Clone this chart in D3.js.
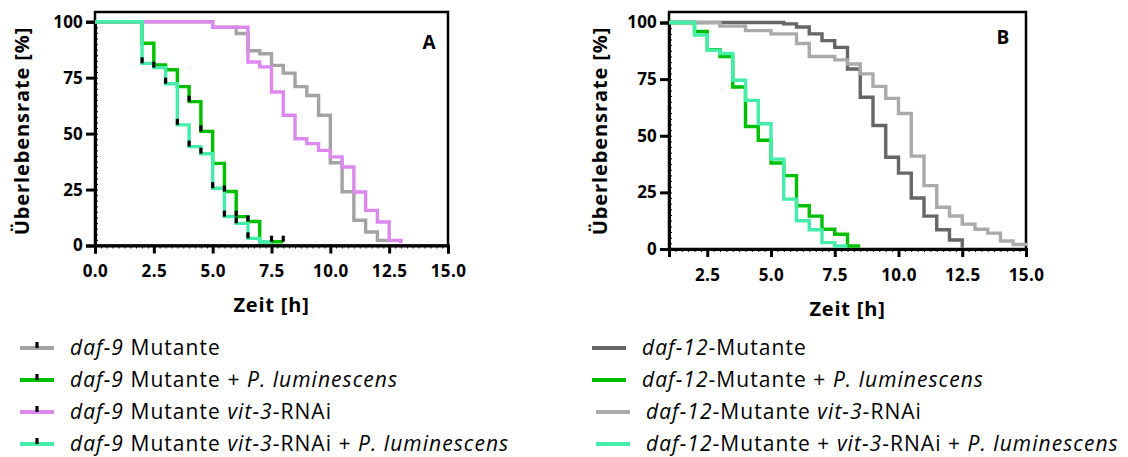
<!DOCTYPE html>
<html><head><meta charset="utf-8">
<script src="https://cdn.jsdelivr.net/npm/d3@7"></script>
<style>
html,body{margin:0;padding:0;background:#fff;}
svg{display:block;font-family:"Open Sans",Lato,sans-serif;}
</style></head>
<body>
<svg id="c" width="1128" height="457"></svg>
<script>
// ---------- DATA ----------
const xTicksA = [0, 2.5, 5, 7.5, 10, 12.5, 15];
const xTicksB = [2.5, 5, 7.5, 10, 12.5, 15];
const yTicks = [0, 25, 50, 75, 100];

// Panel A (daf-9)
const tA_gray  = [0, 5.0, 6.0, 6.5, 7.0, 7.5, 8.0, 8.5, 9.0, 9.5, 10.0, 10.5, 11.0, 11.5, 12.0, 12.5];
const sA_gray  = [100, 97.5, 94.7, 87, 85.7, 80.5, 77, 71, 67, 58.2, 37, 24, 11.3, 6, 2.3, 1.5];
const tA_green = [0, 2.0, 2.5, 3.0, 3.5, 4.0, 4.5, 5.0, 5.5, 6.0, 6.5, 7.0, 8.0];
const sA_green = [100, 90.4, 80.7, 78.5, 71, 64.3, 51, 36.7, 24.1, 12.9, 10.7, 1.7, 1.7];
const tA_pink  = [0, 5.0, 6.5, 7.0, 7.5, 8.0, 8.5, 9.0, 9.5, 10.0, 10.5, 11.0, 11.5, 12.0, 12.5, 13.0];
const sA_pink  = [100, 97.5, 82, 79.8, 68.6, 58.2, 47.7, 45.5, 42.5, 39.6, 35.1, 23.9, 15.7, 10.5, 2.3, 1];
const tA_cyan  = [0, 2.0, 2.5, 3.0, 3.5, 4.0, 4.5, 5.0, 5.5, 6.0, 6.5, 7.0, 7.5];
const sA_cyan  = [100, 81.4, 79.5, 72.3, 53.9, 44.2, 41, 25.6, 12.9, 9.9, 3.2, 1.7, 1.7];
const censA_green = [4.0, 4.5, 5.5, 6.0, 6.5, 7.5, 8.0];
const censA_cyan  = [2.0, 2.5, 3.0, 3.5, 4.0, 4.5, 5.0, 5.5, 6.0, 6.5];

// Panel B (daf-12)
const tB_dark  = [1, 5.5, 6.0, 6.5, 7.0, 7.5, 8.0, 8.5, 9.0, 9.5, 10.0, 10.5, 11.0, 11.5, 12.0, 12.5];
const sB_dark  = [100, 99.4, 98, 95, 92, 89, 79.5, 67, 54.5, 40.5, 33.5, 22.5, 14.5, 8.5, 4, 0.5];
const tB_light = [1, 3.0, 4.0, 5.0, 6.0, 6.5, 7.5, 8.0, 8.5, 9.0, 9.5, 10.0, 10.5, 11.0, 11.5, 12.0, 12.5, 13.0, 13.5, 14.0, 14.5, 15.0];
const sB_light = [100, 98.4, 96.4, 95, 90.7, 85, 83.5, 81.7, 77.3, 71.8, 66.5, 59.8, 41, 28, 18.4, 14.6, 11, 8.7, 7, 3.5, 2, 1.3];
const tB_green = [1, 2.0, 2.5, 3.0, 3.5, 4.0, 4.5, 5.0, 5.5, 6.0, 6.5, 7.0, 7.5, 8.0, 8.5];
const sB_green = [100, 96, 88, 85, 71.5, 54.1, 48, 38, 32.4, 19.1, 14.5, 8.7, 6.5, 1.3, 1.3];
const tB_cyan  = [1, 2.0, 2.5, 3.0, 3.5, 4.0, 4.5, 5.0, 5.5, 6.0, 6.5, 7.0, 7.5, 8.0];
const sB_cyan  = [100, 94.5, 87.8, 86.3, 74.5, 65.6, 55.3, 39.7, 22, 12.5, 8.5, 2.8, 1.3, 1.3];

// Legend texts: [text, italic]
const legendA = [
  [["daf-9", true], [" Mutante", false]],
  [["daf-9", true], [" Mutante + ", false], ["P. luminescens", true]],
  [["daf-9", true], [" Mutante ", false], ["vit-3", true], ["-RNAi", false]],
  [["daf-9", true], [" Mutante ", false], ["vit-3", true], ["-RNAi + ", false], ["P. luminescens", true]]
];
const legendB = [
  [["daf-12", true], ["-Mutante", false]],
  [["daf-12", true], ["-Mutante + ", false], ["P. luminescens", true]],
  [["daf-12", true], ["-Mutante ", false], ["vit-3", true], ["-RNAi", false]],
  [["daf-12", true], ["-Mutante + ", false], ["vit-3", true], ["-RNAi + ", false], ["P. luminescens", true]]
];

// ---------- STYLE ----------
const C = {gray:"#a3a3a3", green:"#00bf00", pink:"#dd88ee", cyan:"#44eeaa", dark:"#666666", light:"#aaaaaa"};
const FONT = "'Open Sans', Lato, sans-serif";

const svg = d3.select("#c");

function zip(t, s){ return t.map((d,i)=>[d, s[i]]); }
function stepVal(t, s, x){ let v = s[0]; for(let i=0;i<t.length;i++){ if(t[i] <= x + 1e-9) v = s[i]; } return v; }

function panel(cfg){
  const g = svg.append("g");
  const x = d3.scaleLinear().domain(cfg.xDom).range(cfg.xRange);
  const y = d3.scaleLinear().domain([0,100]).range(cfg.yRange);
  const left = cfg.xRange[0], right = cfg.xRange[1], bottom = cfg.yRange[0], top = cfg.top;

  // minor ticks
  const minorX = d3.axisBottom(x).tickValues(d3.range(cfg.xDom[0], cfg.xDom[1] + 0.001, 0.25)).tickSize(3).tickFormat("");
  g.append("g").attr("transform", `translate(0,${bottom})`).call(minorX)
    .call(a => a.select(".domain").remove())
    .call(a => a.selectAll("line").attr("stroke","#000").attr("stroke-width",1));
  const minorY = d3.axisRight(y).tickValues(d3.range(0, 100.01, 2.5)).tickSize(3).tickFormat("");
  g.append("g").attr("transform", `translate(${left},0)`).call(minorY)
    .call(a => a.select(".domain").remove())
    .call(a => a.selectAll("line").attr("stroke","#000").attr("stroke-width",1));

  // frame
  g.append("rect").attr("x", left).attr("y", top).attr("width", right-left).attr("height", bottom-top)
    .attr("fill","none").attr("stroke","#000").attr("stroke-width",2.5);

  // axes
  const ax = d3.axisBottom(x).tickValues(cfg.xTicks).tickSize(8).tickPadding(cfg.xPad).tickFormat(d3.format(".1f"));
  g.append("g").attr("transform", `translate(0,${bottom})`).call(ax)
    .call(a => a.select(".domain").attr("stroke-width",3))
    .call(a => a.selectAll(".tick line").attr("stroke-width",3))
    .call(a => a.selectAll("text").attr("font-size",17).attr("letter-spacing","0.4px").attr("font-weight","bold").attr("fill","#000").attr("font-family",FONT));
  const ay = d3.axisLeft(y).tickValues(yTicks).tickSize(9).tickPadding(3).tickFormat(d3.format("d"));
  g.append("g").attr("transform", `translate(${left},0)`).call(ay)
    .call(a => a.select(".domain").attr("stroke-width",3))
    .call(a => a.selectAll(".tick line").attr("stroke-width",3))
    .call(a => a.selectAll("text").attr("font-size",17).attr("letter-spacing","0.2px").attr("font-weight","bold").attr("fill","#000").attr("font-family",FONT));

  // axis titles
  g.append("text").attr("x", (left+right)/2).attr("y", cfg.xTitleY).attr("text-anchor","middle")
    .attr("font-size",20).attr("letter-spacing","0.8px").attr("font-weight","bold").text("Zeit [h]");
  g.append("text").attr("transform", `translate(${cfg.yTitleX},${cfg.yTitleCY}) rotate(-90)`)
    .attr("text-anchor","middle").attr("font-size",20).attr("letter-spacing","0.9px").attr("font-weight","bold").text("Überlebensrate [%]");

  // panel letter
  g.append("text").attr("x", cfg.letterX).attr("y", cfg.letterY).attr("text-anchor","middle")
    .attr("font-size",19).attr("font-weight","bold").text(cfg.letter);

  // curves
  const line = d3.line().x(d => x(d[0])).y(d => y(d[1])).curve(d3.curveStepAfter);
  cfg.series.forEach(s => {
    g.append("path").attr("d", line(zip(s.t, s.s))).attr("fill","none")
      .attr("stroke", s.color).attr("stroke-width",3.4).attr("stroke-linejoin","miter");
  });
  // censor marks
  cfg.series.forEach(s => {
    (s.cens || []).forEach(ct => {
      const v = stepVal(s.t, s.s, ct);
      g.append("rect").attr("x", x(ct)-1.6).attr("y", y(v)-6).attr("width",3.2).attr("height",6).attr("fill","#000");
    });
  });

  // legend
  cfg.legend.forEach((row, i) => {
    const ly = cfg.legY0 + i*cfg.legDy;
    const off = cfg.legOff[i];
    g.append("line").attr("x1", cfg.legX1 + off).attr("x2", cfg.legX2 + off).attr("y1", ly).attr("y2", ly)
      .attr("stroke", cfg.series[cfg.legOrder[i]].color).attr("stroke-width",4);
    if (cfg.legMark) {
      g.append("rect").attr("x", (cfg.legX1+cfg.legX2)/2 + off - 1.6).attr("y", ly-6).attr("width",3.2).attr("height",6).attr("fill","#000");
    }
    const tx = g.append("text").attr("x", cfg.legTX + off).attr("y", ly).attr("dy","0.35em")
      .attr("font-size",cfg.legFont).attr("letter-spacing","1.05px").attr("fill","#000");
    row.forEach(seg => {
      tx.append("tspan").attr("font-style", seg[1] ? "italic" : "normal").text(seg[0]);
    });
  });
}

panel({
  xDom:[0,15], xRange:[95,448], yRange:[245.5,21.7], top:12, xTicks:xTicksA, xPad:11,
  xTitleY:312, yTitleX:29, yTitleCY:131, letter:"A", letterX:429, letterY:49,
  series:[
    {t:tA_gray, s:sA_gray, color:C.gray},
    {t:tA_green, s:sA_green, color:C.green, cens:censA_green},
    {t:tA_pink, s:sA_pink, color:C.pink},
    {t:tA_cyan, s:sA_cyan, color:C.cyan, cens:censA_cyan}
  ],
  legend:legendA, legOrder:[0,1,2,3], legMark:true,
  legX1:20, legX2:54, legTX:70, legY0:348, legDy:32, legOff:[0,0,0,0], legFont:21
});

panel({
  xDom:[1,15], xRange:[669,1026], yRange:[249,22.5], top:12, xTicks:xTicksB, xPad:12,
  xTitleY:316, yTitleX:607, yTitleCY:131, letter:"B", letterX:1003, letterY:44,
  series:[
    {t:tB_dark, s:sB_dark, color:C.dark},
    {t:tB_light, s:sB_light, color:C.light},
    {t:tB_green, s:sB_green, color:C.green},
    {t:tB_cyan, s:sB_cyan, color:C.cyan}
  ],
  legend:legendB, legOrder:[0,2,1,3], legMark:false,
  legX1:592, legX2:626, legTX:642, legY0:348, legDy:32, legOff:[0,0,4,4], legFont:21
});
</script>
</body></html>
